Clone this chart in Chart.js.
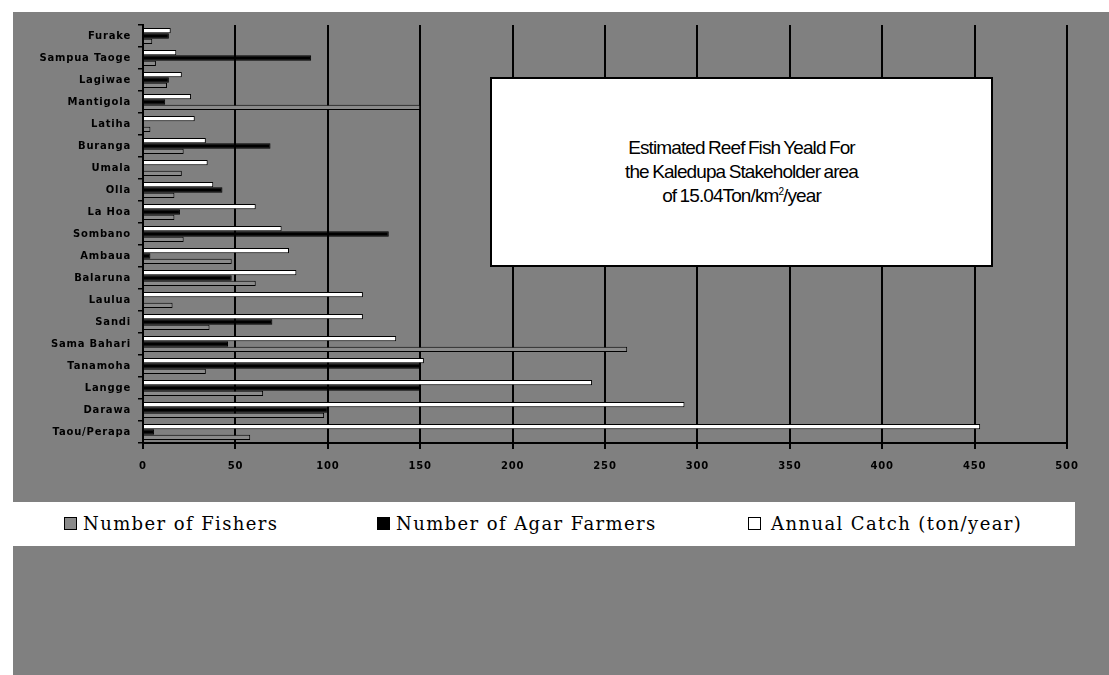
<!DOCTYPE html>
<html>
<head>
<meta charset="utf-8">
<script src="https://cdn.jsdelivr.net/npm/chart.js@4/dist/chart.umd.min.js"></script>
<style>
  html,body{margin:0;padding:0;background:#fff;width:1109px;height:675px;overflow:hidden;}
  #wrap{position:absolute;left:13px;top:12px;width:1096px;height:663px;background:#808080;}
  #c{position:absolute;left:0;top:0;}
  #note{position:absolute;left:477px;top:65px;width:503px;height:190px;box-sizing:border-box;
        background:#fff;border:2px solid #000;display:flex;align-items:center;justify-content:center;
        text-align:center;font-family:"Liberation Sans",Arial,sans-serif;font-size:19px;
        letter-spacing:-0.9px;word-spacing:-1px;line-height:24px;color:#000;}
  #note sup{font-size:10px;line-height:0;vertical-align:7px;}
  #legend{position:absolute;left:0;top:490px;width:1062px;height:44px;background:#fff;}
  .li{position:absolute;top:0;height:44px;font-family:"DejaVu Serif",serif;font-size:18px;
      letter-spacing:1.4px;line-height:44px;color:#000;white-space:nowrap;}
  .li i{position:absolute;top:15px;width:13px;height:13px;border:1px solid #000;box-sizing:border-box;}
  .li span{position:absolute;top:0;}
</style>
</head>
<body>
<div id="wrap">
  <canvas id="c" width="1096" height="490"></canvas>
  <div id="note"><div>Estimated Reef Fish Yeald For<br>the Kaledupa Stakeholder area<br>of 15.04Ton/km<sup>2</sup>/year</div></div>
  <div id="legend"></div>
</div>
<script>
// ── data (top to bottom as in the chart) ──────────────────────
const villages = ['Furake','Sampua Taoge','Lagiwae','Mantigola','Latiha','Buranga','Umala','Olla','La Hoa',
                  'Sombano','Ambaua','Balaruna','Laulua','Sandi','Sama Bahari','Tanamoha','Langge','Darawa','Taou/Perapa'];
const fishers     = [5, 7, 13, 150, 4, 22, 21, 17, 17, 22, 48, 61, 16, 36, 262, 34, 65, 98, 58];
const agarFarmers = [14, 91, 14, 12, 0, 69, 0, 43, 20, 133, 4, 48, 0, 70, 46, 150, 150, 100, 6];
const annualCatch = [15, 18, 21, 26, 28, 34, 35, 38, 61, 75, 79, 83, 119, 119, 137, 152, 243, 293, 453];
const xTicks = [0,50,100,150,200,250,300,350,400,450,500];

const seriesNames = ['Number of Fishers','Number of Agar Farmers','Annual Catch (ton/year)'];
const CLR = {fish:'#8a8a8a', agar:'#000000', catch:'#ffffff'};

// ── legend (html, own white band) ─────────────────────────────
const legendPos = [[51,70],[364,383],[735,758]];
const legendClr = [CLR.fish, CLR.agar, CLR.catch];
document.getElementById('legend').innerHTML = seriesNames.map((n,i)=>
  `<div class="li" style="left:${legendPos[i][0]}px"><i style="background:${legendClr[i]}"></i>`+
  `<span style="left:${legendPos[i][1]-legendPos[i][0]}px">${n}</span></div>`).join('');

// ── chart ─────────────────────────────────────────────────────
// white bar on top, black in the middle, gray at the bottom of each band
const ds = (label,data,bg)=>({label,data,backgroundColor:bg,borderColor:'#000',borderWidth:1,
  categoryPercentage:0.72,barPercentage:1.0});

// the old chart font is spaced out a little
const spacing = {id:'spacing', beforeDraw(chart){ chart.ctx.letterSpacing='0.8px'; }};

new Chart(document.getElementById('c').getContext('2d'),{
  type:'bar',
  data:{labels:villages,
        datasets:[ds(seriesNames[2],annualCatch,CLR.catch),
                  ds(seriesNames[1],agarFarmers,CLR.agar),
                  ds(seriesNames[0],fishers,CLR.fish)]},
  options:{
    indexAxis:'y',responsive:false,animation:false,devicePixelRatio:1,
    layout:{padding:{left:0,right:42,top:0,bottom:0}},
    plugins:{legend:{display:false},tooltip:{enabled:false}},
    scales:{
      x:{min:0,max:500,
         afterBuildTicks:s=>{s.ticks=xTicks.map(v=>({value:v}));},
         afterFit:s=>{s.height=59;},
         ticks:{color:'#000',font:{family:'DejaVu Sans',size:10,weight:'bold'},padding:11,maxRotation:0},
         grid:{color:'#000',lineWidth:2,tickLength:6,tickColor:'#000'},
         border:{color:'#000',width:2}},
      y:{afterFit:s=>{s.width=130;},
         ticks:{color:'#000',font:{family:'DejaVu Sans',size:10,weight:'bold'},padding:7,autoSkip:false},
         grid:{drawOnChartArea:false,offset:true,tickLength:5,color:'#000',lineWidth:1.5},
         border:{color:'#000',width:2}}
    }
  },
  plugins:[spacing]
});
</script>
</body>
</html>
